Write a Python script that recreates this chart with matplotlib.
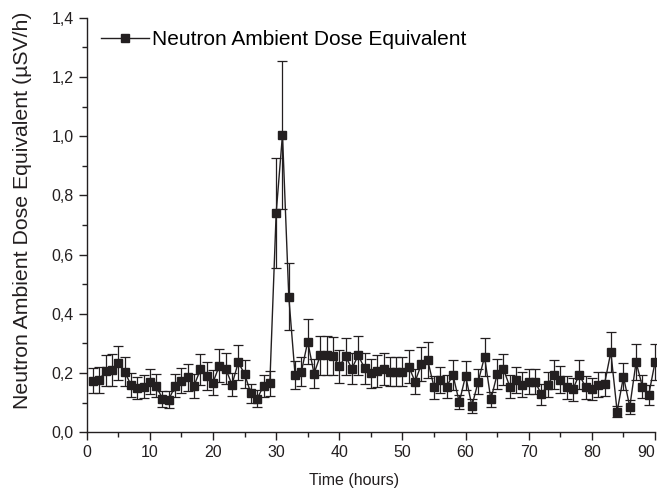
import numpy as np
import matplotlib
matplotlib.use("Agg")
import matplotlib.pyplot as plt
from matplotlib.ticker import MultipleLocator, FixedLocator, FuncFormatter

# hourly readings
hours = np.arange(1, 91)
dose = [0.174, 0.177, 0.208, 0.210, 0.233, 0.205, 0.160, 0.151, 0.154, 0.171,
        0.157, 0.113, 0.110, 0.157, 0.174, 0.185, 0.157, 0.212, 0.190, 0.168,
        0.225, 0.215, 0.161, 0.236, 0.197, 0.131, 0.113, 0.157, 0.166, 0.740,
        1.005, 0.458, 0.192, 0.205, 0.306, 0.198, 0.260, 0.260, 0.257, 0.223,
        0.256, 0.215, 0.260, 0.216, 0.199, 0.207, 0.213, 0.205, 0.205, 0.205,
        0.222, 0.171, 0.230, 0.244, 0.152, 0.177, 0.154, 0.194, 0.101, 0.191,
        0.089, 0.171, 0.255, 0.111, 0.196, 0.213, 0.154, 0.177, 0.160, 0.171,
        0.171, 0.128, 0.160, 0.195, 0.177, 0.152, 0.145, 0.195, 0.152, 0.145,
        0.161, 0.163, 0.271, 0.070, 0.188, 0.086, 0.237, 0.154, 0.126, 0.237]
dose_err = [0.043, 0.045, 0.052, 0.054, 0.057, 0.050, 0.040, 0.037, 0.038, 0.043,
            0.039, 0.028, 0.028, 0.039, 0.043, 0.045, 0.040, 0.054, 0.048, 0.042,
            0.056, 0.052, 0.040, 0.060, 0.048, 0.031, 0.029, 0.037, 0.042, 0.186,
            0.250, 0.114, 0.047, 0.050, 0.076, 0.050, 0.065, 0.065, 0.064, 0.056,
            0.064, 0.052, 0.065, 0.053, 0.050, 0.055, 0.055, 0.050, 0.050, 0.050,
            0.055, 0.042, 0.057, 0.062, 0.039, 0.044, 0.039, 0.050, 0.024, 0.048,
            0.023, 0.043, 0.064, 0.026, 0.050, 0.053, 0.039, 0.044, 0.042, 0.043,
            0.043, 0.035, 0.042, 0.050, 0.046, 0.039, 0.038, 0.050, 0.039, 0.037,
            0.042, 0.042, 0.068, 0.019, 0.046, 0.023, 0.060, 0.039, 0.035, 0.060]
xticks = np.arange(0, 91, 10)

plt.rcParams['font.family'] = ['Liberation Sans', 'DejaVu Sans']

fig = plt.figure(figsize=(6.57, 4.94), dpi=100)
ax = fig.add_axes([0.132, 0.125, 0.865, 0.839])

ink = '#231f20'
ax.errorbar(hours, dose, yerr=dose_err, fmt='none', ecolor=ink, elinewidth=0.9,
            capsize=3.5, capthick=0.9, clip_on=False, zorder=2)
ax.plot(hours, dose, '-s', color=ink, lw=1.0, markersize=6,
        label='Neutron Ambient Dose Equivalent', clip_on=False, zorder=3)

ax.set_xlim(0, 90)
ax.set_ylim(0, 1.4)
ax.xaxis.set_major_locator(FixedLocator(xticks))
ax.xaxis.set_minor_locator(MultipleLocator(5))
ax.yaxis.set_major_locator(MultipleLocator(0.2))
ax.yaxis.set_minor_locator(MultipleLocator(0.1))
ax.yaxis.set_major_formatter(FuncFormatter(lambda v, p: f"{v:.1f}".replace('.', ',')))

for side in ['top', 'right']:
    ax.spines[side].set_visible(False)
for side in ['left', 'bottom']:
    ax.spines[side].set_linewidth(1.0)
    ax.spines[side].set_color(ink)
ax.tick_params(which='major', direction='out', length=6, width=1.0, labelsize=11.5, colors=ink)
ax.tick_params(which='minor', direction='out', length=3.5, width=1.0, colors=ink)

# keep the last x label inside the figure, like the original
last_tick = ax.xaxis.get_major_ticks(len(xticks))[-1]
last_tick.label1.set_horizontalalignment('right')

ax.set_xlabel('Time (hours)', fontsize=11.5, color=ink)
ax.xaxis.set_label_coords(0.47, -0.098)
ax.set_ylabel('Neutron Ambient Dose Equivalent (\u00b5SV/h)', fontsize=15.3, color=ink)
ax.yaxis.set_label_coords(-0.097, 0.536)

ax.legend(loc='upper left', frameon=False, fontsize=15, handlelength=2.3,
          handletextpad=0.12, borderaxespad=0.3, bbox_to_anchor=(0.0, 1.005))

fig.savefig('out.png', dpi=100)
